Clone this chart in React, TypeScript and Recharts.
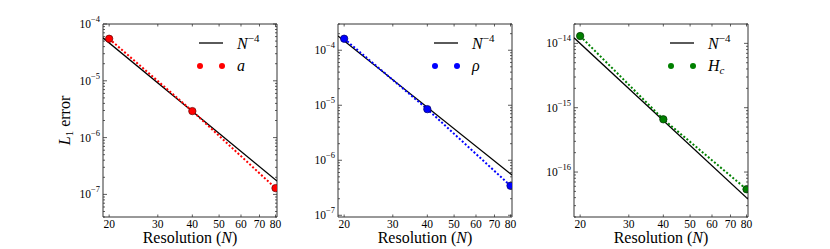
import React from "react";
import { LineChart, Line, XAxis, YAxis, ReferenceArea, Legend } from "recharts";

// resolutions and the x range of the N^-4 guide line
const resolutions = [20, 40, 80];
const xTicks = [20, 30, 40, 50, 60, 70, 80];
const refN = [19, 81];
const xDomain: [number, number] = [19, 81];

// L1 errors
const aErr = [5.5e-5, 2.93e-6, 1.29e-7];
const aRef = [5.7e-5, 1.72e-7];
const rhoErr = [1.62e-4, 8.5e-6, 3.44e-7];
const rhoRef = [1.82e-4, 5.4e-7];
const hcErr = [1.3e-14, 6.6e-16, 5.4e-17];
const hcRef = [1.22e-14, 3.8e-17];

// y axis ranges and decades (exponents) for ticks
const aDomain: [number, number] = [4e-8, 1e-4];
const rhoDomain: [number, number] = [9.3e-8, 3e-4];
const hcDomain: [number, number] = [2e-17, 2e-14];
const aExps = [-8, -7, -6, -5, -4];
const rhoExps = [-8, -7, -6, -5, -4];
const hcExps = [-17, -16, -15, -14];

const PLOT_W = 174;
const PLOT_H = 193;
const TICK_MARGIN = 3;
const FRAME = "#333";
const SERIF = "Liberation Serif, Times New Roman, DejaVu Serif, serif";

function logTicks(exps: number[], dom: [number, number]) {
  const out: number[] = [];
  for (const e of exps) {
    for (let m = 1; m <= 9; m++) {
      const v = m * Math.pow(10, e);
      if (v >= dom[0] * (1 - 1e-9) && v <= dom[1] * (1 + 1e-9)) out.push(v);
    }
  }
  return out;
}

function YTick(props: any) {
  const { x, y, payload } = props;
  const v = payload.value as number;
  const lg = Math.log10(v);
  const exp = Math.round(lg);
  const major = Math.abs(lg - exp) < 1e-6;
  const len = major ? 4 : 2;
  const ax = x + TICK_MARGIN;
  return (
    <g>
      <line x1={ax} x2={ax + len} y1={y} y2={y} stroke={FRAME} strokeWidth={0.8} />
      <line x1={ax + PLOT_W} x2={ax + PLOT_W - len} y1={y} y2={y} stroke={FRAME} strokeWidth={0.8} />
      {major && (
        <text x={x} y={y + 4} textAnchor="end" fontSize={11.5} style={{ fontFamily: SERIF }} fill="#000">
          10
          <tspan fontSize={8.5} dy={-6}>{`\u2212${Math.abs(exp)}`}</tspan>
        </text>
      )}
    </g>
  );
}

function XTick(props: any) {
  const { x, y, payload } = props;
  const ay = y - TICK_MARGIN;
  return (
    <g>
      <line x1={x} x2={x} y1={ay} y2={ay - 2.5} stroke={FRAME} strokeWidth={0.8} />
      <line x1={x} x2={x} y1={ay - PLOT_H} y2={ay - PLOT_H + 2.5} stroke={FRAME} strokeWidth={0.8} />
      <text x={x} y={y + 7.5} textAnchor="middle" fontSize={11.5} style={{ fontFamily: SERIF }} fill="#000">
        {payload.value}
      </text>
    </g>
  );
}

function XLabel(props: any) {
  const vb = props.viewBox || { x: 103, y: 217, width: PLOT_W };
  return (
    <text x={vb.x + vb.width / 2} y={vb.y + 26} textAnchor="middle" fontSize={16} style={{ fontFamily: SERIF }} fill="#000">
      Resolution (<tspan fontStyle="italic">N</tspan>)
    </text>
  );
}

function YLabel(props: any) {
  const vb = props.viewBox || { x: 60, y: 24, width: 43, height: PLOT_H };
  const cx = vb.x + vb.width - 33;
  const cy = vb.y + vb.height / 2;
  return (
    <text
      x={cx}
      y={cy}
      transform={`rotate(-90, ${cx}, ${cy})`}
      textAnchor="middle"
      fontSize={16}
      style={{ fontFamily: SERIF }}
      fill="#000"
    >
      <tspan fontStyle="italic">L</tspan>
      <tspan fontSize={11} dy={3}>1</tspan>
      <tspan dy={-3}> error</tspan>
    </text>
  );
}

function LegendBox({ color, label }: { color: string; label: React.ReactNode }) {
  return (
    <svg width={90} height={44} style={{ display: "block", overflow: "visible" }}>
      <line x1={1} x2={25} y1={13} y2={13} stroke="#000" strokeWidth={1.3} />
      <text x={39} y={18.5} fontSize={16} style={{ fontFamily: SERIF }} fontStyle="italic" fill="#000">
        N
        <tspan fontSize={11} dy={-7} fontStyle="normal">
          {"\u22124"}
        </tspan>
      </text>
      <circle cx={2} cy={36} r={3} fill={color} />
      <circle cx={24} cy={36} r={3} fill={color} />
      <text x={39} y={40.5} fontSize={16} style={{ fontFamily: SERIF }} fontStyle="italic" fill="#000">
        {label}
      </text>
    </svg>
  );
}

interface PanelProps {
  left: number;
  errs: number[];
  ref2: number[];
  domain: [number, number];
  exps: number[];
  color: string;
  edge: string;
  label: React.ReactNode;
  yLabel?: boolean;
}

function Panel({ left, errs, ref2, domain, exps, color, edge, label, yLabel }: PanelProps) {
  const errData = resolutions.map((n, i) => ({ n, v: errs[i] }));
  const refData = refN.map((n, i) => ({ n, v: ref2[i] }));
  const yTicks = logTicks(exps, domain);
  return (
    <div style={{ position: "absolute", left, top: 0 }}>
      <LineChart width={287} height={249} margin={{ top: 24, right: 10, bottom: 12, left: 60 }}>
        <XAxis
          type="number"
          dataKey="n"
          scale="log"
          domain={xDomain}
          allowDataOverflow
          ticks={xTicks}
          interval={0}
          tick={<XTick />}
          tickSize={0}
          tickMargin={TICK_MARGIN}
          tickLine={false}
          axisLine={false}
          height={20}
          label={<XLabel />}
        />
        <YAxis
          type="number"
          scale="log"
          domain={domain}
          allowDataOverflow
          ticks={yTicks}
          interval={0}
          tick={<YTick />}
          tickSize={0}
          tickMargin={TICK_MARGIN}
          tickLine={false}
          axisLine={false}
          width={43}
          label={yLabel ? <YLabel /> : undefined}
        />
        <ReferenceArea
          x1={xDomain[0]}
          x2={xDomain[1]}
          y1={domain[0]}
          y2={domain[1]}
          fill="none"
          stroke={FRAME}
          strokeWidth={1}
          ifOverflow="visible"
        />
        <Line
          data={refData}
          dataKey="v"
          stroke="#000"
          strokeWidth={1.3}
          dot={false}
          isAnimationActive={false}
        />
        <Line
          data={errData}
          dataKey="v"
          stroke={color}
          strokeWidth={2}
          strokeDasharray="2 2"
          isAnimationActive={false}
          dot={(p: any) => (
            <circle key={`d${p.index}`} cx={p.cx} cy={p.cy} r={3.7} fill={color} stroke={edge} strokeWidth={0.7} />
          )}
        />
        <Legend
          layout="vertical"
          align="center"
          verticalAlign="middle"
          wrapperStyle={{ left: 198, top: 30, width: 90 }}
          content={() => <LegendBox color={color} label={label} />}
        />
      </LineChart>
    </div>
  );
}

export default function App() {
  return (
    <div style={{ position: "absolute", left: 0, top: 0, width: 830, height: 249, background: "#fff" }}>
      <Panel
        left={0}
        errs={aErr}
        ref2={aRef}
        domain={aDomain}
        exps={aExps}
        color="#ff0000"
        edge="#600"
        label="a"
        yLabel
      />
      <Panel
        left={235}
        errs={rhoErr}
        ref2={rhoRef}
        domain={rhoDomain}
        exps={rhoExps}
        color="#0000ff"
        edge="#006"
        label={"\u03c1"}
      />
      <Panel
        left={471}
        errs={hcErr}
        ref2={hcRef}
        domain={hcDomain}
        exps={hcExps}
        color="#008000"
        edge="#030"
        label={
          <>
            H
            <tspan fontSize={11} dy={3}>c</tspan>
          </>
        }
      />
    </div>
  );
}
